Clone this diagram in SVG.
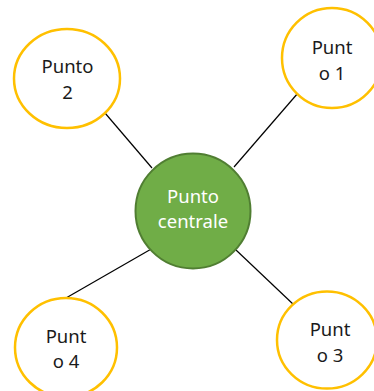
<svg xmlns="http://www.w3.org/2000/svg" width="374" height="391" viewBox="0 0 374 391">
  <style>
    .leaf { fill: #ffffff; stroke: #ffc000; stroke-width: 2.5; }
    .hub { fill: #70ad47; stroke: #507e32; stroke-width: 2; }
    .lbl { font-family: "Noto Sans", "Open Sans", "DejaVu Sans", sans-serif; font-size: 18.5px; text-anchor: middle; fill: #1a1a1a; }
    .hubLbl { font-family: "Noto Sans", "Open Sans", "DejaVu Sans", sans-serif; font-size: 18.5px; text-anchor: middle; fill: #ffffff; }
    .link { stroke: #000000; stroke-width: 1.2; fill: none; }
  </style>
  <rect width="374" height="391" fill="#ffffff"/>
  <g id="connectors">
    <line class="link" x1="105" y1="113" x2="152" y2="168"/>
    <line class="link" x1="298" y1="93" x2="234" y2="167"/>
    <line class="link" x1="66" y1="298" x2="153" y2="248"/>
    <line class="link" x1="294" y1="305" x2="236" y2="250"/>
  </g>
  <g id="node-center">
    <circle class="hub" cx="193" cy="211" r="57.5"/>
    <text class="hubLbl" x="193" y="203">Punto</text>
    <text class="hubLbl" x="193" y="228">centrale</text>
  </g>
  <g id="node-1">
    <ellipse class="leaf" cx="332" cy="58" rx="50" ry="50"/>
    <text class="lbl" x="332" y="54">Punt</text>
    <text class="lbl" x="332" y="80">o 1</text>
  </g>
  <g id="node-2">
    <ellipse class="leaf" cx="67" cy="78.5" rx="53" ry="49.5"/>
    <text class="lbl" x="67.5" y="73">Punto</text>
    <text class="lbl" x="67.5" y="99">2</text>
  </g>
  <g id="node-3">
    <ellipse class="leaf" cx="327" cy="340" rx="50" ry="48.5"/>
    <text class="lbl" x="330" y="336">Punt</text>
    <text class="lbl" x="330" y="362">o 3</text>
  </g>
  <g id="node-4">
    <ellipse class="leaf" cx="66" cy="347.5" rx="51" ry="49.5"/>
    <text class="lbl" x="66" y="343">Punt</text>
    <text class="lbl" x="66" y="368">o 4</text>
  </g>
</svg>
